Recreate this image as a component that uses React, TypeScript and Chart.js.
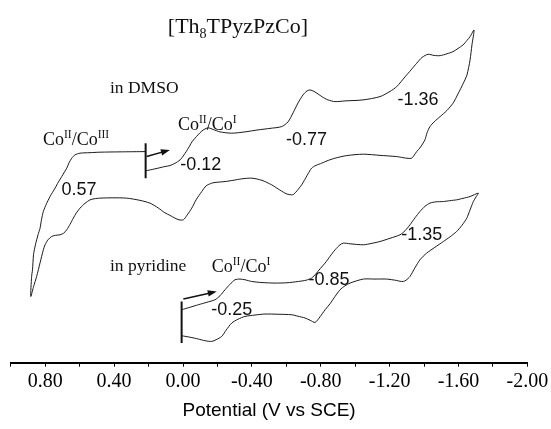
import { useEffect, useRef } from 'react';
import { Chart, registerables } from 'chart.js';

Chart.register(...registerables);

// Potential axis (V vs SCE): a tick every 0.2 V, a label every 0.4 V
const TICK_VALUES = [1.0, 0.8, 0.6, 0.4, 0.2, 0.0, -0.2, -0.4, -0.6, -0.8, -1.0, -1.2, -1.4, -1.6, -1.8, -2.0];

// Cyclic voltammogram in DMSO: start at 0.22 V, sweep to -1.69 V, back to 0.88 V, return to start
const DMSO_POTENTIAL = [
  0.217, 0.163, 0.105, 0.076, 0.047, 0.017, -0.006, -0.031, -0.052, -0.070, -0.087, -0.110, -0.134, -0.151, -0.174,
  -0.215, -0.283, -0.360, -0.436, -0.505, -0.573, -0.610, -0.639, -0.668, -0.697, -0.720, -0.738, -0.761, -0.784,
  -0.806, -0.842, -0.883, -0.941, -1.045, -1.144, -1.202, -1.241, -1.289, -1.324, -1.357, -1.388, -1.423, -1.458,
  -1.493, -1.533, -1.568, -1.597, -1.626, -1.649, -1.667, -1.690,
  -1.678, -1.667, -1.649, -1.628, -1.597, -1.568, -1.533, -1.493, -1.458, -1.434, -1.417, -1.405, -1.376, -1.357,
  -1.342, -1.328, -1.307, -1.278, -1.241, -1.144, -1.047, -0.951, -0.883, -0.836, -0.806, -0.772, -0.747, -0.726,
  -0.703, -0.689, -0.662, -0.642, -0.631, -0.610, -0.592, -0.552, -0.515, -0.459, -0.399, -0.341, -0.290, -0.244,
  -0.192, -0.167, -0.134, -0.109, -0.076, -0.051, -0.023, -0.002, 0.023, 0.047, 0.076, 0.105, 0.145, 0.192, 0.250,
  0.327, 0.407, 0.482, 0.517, 0.540, 0.569, 0.598, 0.619, 0.637, 0.656, 0.675, 0.694, 0.714, 0.740, 0.763, 0.784,
  0.801, 0.811, 0.830, 0.850, 0.868, 0.884,
  0.879, 0.874, 0.868, 0.857, 0.842, 0.830, 0.822, 0.811, 0.793, 0.772, 0.743, 0.723, 0.704, 0.688, 0.675, 0.662,
  0.646, 0.627, 0.598, 0.540, 0.482, 0.366, 0.217,
];
const DMSO_CURRENT = [
  19.20, 19.40, 19.63, 19.73, 19.95, 20.30, 20.80, 21.47, 22.10, 22.47, 22.80, 23.20, 23.45, 23.50, 23.35,
  23.10, 22.97, 23.10, 23.30, 23.45, 23.63, 24.10, 25.00, 26.00, 26.80, 27.20, 27.30, 27.15, 26.90,
  26.63, 26.30, 26.13, 26.20, 26.30, 26.63, 27.15, 27.63, 28.60, 29.30, 29.97, 30.55, 30.87, 30.75,
  30.73, 30.92, 31.13, 31.45, 31.80, 32.25, 32.63, 33.30,
  31.80, 30.30, 28.80, 27.97, 26.90, 25.97, 25.25, 24.63, 24.10, 23.63, 23.00, 22.30, 21.50, 21.13,
  20.75, 20.47, 20.45, 20.52, 20.63, 20.75, 20.87, 20.73, 20.47, 20.20, 19.97, 19.75, 19.47, 18.90,
  18.20, 17.80, 17.20, 16.85, 16.80, 16.85, 16.97, 17.40, 17.80, 18.25, 18.47, 18.40, 18.25, 18.13,
  18.05, 17.97, 17.70, 17.13, 16.30, 15.47, 14.75, 14.30, 14.30, 14.47, 14.75, 15.00, 15.50, 15.97, 16.25,
  16.47, 16.50, 16.47, 16.40, 16.30, 15.95, 15.47, 15.00, 14.47, 13.85, 13.30, 12.95, 12.80, 12.75, 12.63,
  12.30, 11.80, 11.30, 10.00, 8.63, 7.60, 6.63,
  8.63, 9.30, 10.80, 11.80, 12.80, 13.47, 14.30, 15.13, 15.90, 16.63, 17.47, 18.10, 18.63, 19.10, 19.47, 20.00,
  20.47, 20.80, 20.97, 21.02, 21.07, 21.10, 21.13,
];

// Cyclic voltammogram in pyridine: 0.0 V -> -1.72 V -> 0.0 V
const PYRIDINE_POTENTIAL = [
  0.008, -0.041, -0.089, -0.139, -0.186, -0.215, -0.244, -0.273, -0.302, -0.331, -0.360, -0.399, -0.459, -0.534,
  -0.604, -0.670, -0.714, -0.747, -0.772, -0.796, -0.825, -0.854, -0.883, -0.912, -0.931, -0.970, -1.047, -1.098,
  -1.144, -1.202, -1.260, -1.289, -1.318, -1.347, -1.376, -1.405, -1.434, -1.469, -1.512, -1.551, -1.589, -1.626,
  -1.667, -1.715,
  -1.702, -1.686, -1.667, -1.648, -1.620, -1.589, -1.551, -1.512, -1.463, -1.415, -1.376, -1.347, -1.318, -1.295,
  -1.279, -1.260, -1.241, -1.183, -1.115, -1.047, -0.970, -0.941, -0.912, -0.883, -0.854, -0.825, -0.796, -0.767,
  -0.738, -0.709, -0.668, -0.631, -0.552, -0.476, -0.418, -0.360, -0.319, -0.283, -0.250, -0.225, -0.192, -0.167,
  -0.128, -0.089, -0.041, 0.008,
];
const PYRIDINE_CURRENT = [
  5.30, 5.55, 5.80, 6.05, 6.30, 6.70, 7.30, 7.85, 8.30, 8.37, 8.30, 8.13, 8.02, 7.97,
  8.00, 8.13, 8.25, 8.47, 8.90, 9.40, 9.97, 10.65, 11.30, 11.80, 11.97, 11.90, 11.80, 11.95,
  12.13, 12.45, 12.80, 13.20, 13.80, 14.50, 15.13, 15.65, 15.97, 16.10, 16.13, 16.22, 16.30, 16.45,
  16.63, 16.97,
  16.60, 16.13, 15.30, 14.47, 13.75, 13.13, 12.60, 12.13, 11.55, 10.97, 10.30, 9.50, 8.63, 8.25,
  8.13, 8.15, 8.23, 8.37, 8.37, 8.37, 7.97, 7.70, 7.30, 6.63, 5.90, 5.30, 4.60, 4.03,
  4.25, 4.47, 4.65, 4.80, 4.85, 4.87, 4.77, 4.63, 4.35, 3.97, 3.25, 2.63, 2.30, 2.13,
  2.20, 2.37, 2.55, 2.70,
];

// Vertical start markers of the two scans
const START_POTENTIAL = [0.217, 0.008];
const START_LOW = [18.47, 1.97];
const START_HIGH = [21.97, 6.13];

// Scan-direction arrows
const ARROW_FROM_POTENTIAL = [0.211, -0.002];
const ARROW_FROM_CURRENT = [20.63, 6.37];
const ARROW_TO_POTENTIAL = [0.076, -0.196];
const ARROW_TO_CURRENT = [21.3, 7.13];

// Half-wave potentials written next to the waves
const PEAK_LABELS = ['0.57', '-0.12', '-0.77', '-1.36', '-0.25', '-0.85', '-1.35'];
const PEAK_LABEL_POTENTIAL = [0.604, -0.103, -0.717, -1.365, -0.283, -0.848, -1.386];
const PEAK_LABEL_CURRENT = [17.3, 19.8, 22.3, 26.3, 5.3, 8.3, 12.8];

// Solvent names
const SOLVENT_LABELS = ['in DMSO', 'in pyridine'];
const SOLVENT_LABEL_POTENTIAL = [0.424, 0.424];
const SOLVENT_LABEL_CURRENT = [27.5, 9.6];

type Seg = { t: string; k?: 'sup' | 'sub' };

// Redox couple labels (with Roman-numeral superscripts)
const COUPLE_LABELS: Seg[][] = [
  [{ t: 'Co' }, { t: 'II', k: 'sup' }, { t: '/Co' }, { t: 'III', k: 'sup' }],
  [{ t: 'Co' }, { t: 'II', k: 'sup' }, { t: '/Co' }, { t: 'I', k: 'sup' }],
  [{ t: 'Co' }, { t: 'II', k: 'sup' }, { t: '/Co' }, { t: 'I', k: 'sup' }],
];
const COUPLE_LABEL_POTENTIAL = [0.813, 0.029, -0.167];
const COUPLE_LABEL_CURRENT = [22.4, 23.9, 9.7];

const COMPOUND: Seg[] = [{ t: '[Th' }, { t: '8', k: 'sub' }, { t: 'TPyzPzCo]' }];
const COMPOUND_POTENTIAL = -0.319;
const COMPOUND_CURRENT = 33.7;

const SERIF = '"Liberation Serif", "Times New Roman", serif';
const SANS = '"Liberation Sans", Arial, sans-serif';
const INK = '#111';

function toPoints(xs: number[], ys: number[]) {
  return xs.map((x, i) => ({ x, y: ys[i] }));
}

function drawRich(ctx: CanvasRenderingContext2D, segs: Seg[], x: number, yMid: number, size: number, align: 'left' | 'center') {
  const small = size * 0.64;
  const widths = segs.map((s) => {
    ctx.font = `${s.k ? small : size}px ${SERIF}`;
    return ctx.measureText(s.t).width;
  });
  const total = widths.reduce((a, b) => a + b, 0);
  let cx = align === 'center' ? x - total / 2 : x;
  const baseline = yMid + size * 0.33;
  ctx.textAlign = 'left';
  ctx.textBaseline = 'alphabetic';
  segs.forEach((s, i) => {
    ctx.font = `${s.k ? small : size}px ${SERIF}`;
    const dy = s.k === 'sup' ? -size * 0.4 : s.k === 'sub' ? size * 0.2 : 0;
    ctx.fillText(s.t, cx, baseline + dy);
    cx += widths[i];
  });
}

const annotations = {
  id: 'cvAnnotations',
  afterDatasetsDraw(chart: any) {
    const { ctx, scales } = chart;
    const xs = scales.x;
    const ys = scales.y;
    ctx.save();
    ctx.fillStyle = INK;
    ctx.strokeStyle = INK;

    // scan-direction arrows
    ARROW_FROM_POTENTIAL.forEach((_, i) => {
      const x0 = xs.getPixelForValue(ARROW_FROM_POTENTIAL[i]);
      const y0 = ys.getPixelForValue(ARROW_FROM_CURRENT[i]);
      const x1 = xs.getPixelForValue(ARROW_TO_POTENTIAL[i]);
      const y1 = ys.getPixelForValue(ARROW_TO_CURRENT[i]);
      const ang = Math.atan2(y1 - y0, x1 - x0);
      const head = 9;
      ctx.lineWidth = 1.5;
      ctx.beginPath();
      ctx.moveTo(x0, y0);
      ctx.lineTo(x1 - Math.cos(ang) * head * 0.6, y1 - Math.sin(ang) * head * 0.6);
      ctx.stroke();
      ctx.beginPath();
      ctx.moveTo(x1, y1);
      ctx.lineTo(x1 - head * Math.cos(ang) + 3.2 * Math.sin(ang), y1 - head * Math.sin(ang) - 3.2 * Math.cos(ang));
      ctx.lineTo(x1 - head * Math.cos(ang) - 3.2 * Math.sin(ang), y1 - head * Math.sin(ang) + 3.2 * Math.cos(ang));
      ctx.closePath();
      ctx.fill();
    });

    // half-wave potential values
    ctx.font = `18px ${SANS}`;
    ctx.textAlign = 'center';
    ctx.textBaseline = 'middle';
    PEAK_LABELS.forEach((t, i) => {
      ctx.fillText(t, xs.getPixelForValue(PEAK_LABEL_POTENTIAL[i]), ys.getPixelForValue(PEAK_LABEL_CURRENT[i]));
    });

    // solvent names
    ctx.font = `17.5px ${SERIF}`;
    ctx.textAlign = 'left';
    SOLVENT_LABELS.forEach((t, i) => {
      ctx.fillText(t, xs.getPixelForValue(SOLVENT_LABEL_POTENTIAL[i]), ys.getPixelForValue(SOLVENT_LABEL_CURRENT[i]));
    });

    // redox couples
    COUPLE_LABELS.forEach((segs, i) => {
      drawRich(ctx, segs, xs.getPixelForValue(COUPLE_LABEL_POTENTIAL[i]), ys.getPixelForValue(COUPLE_LABEL_CURRENT[i]), 18, 'left');
    });

    // compound name
    drawRich(ctx, COMPOUND, xs.getPixelForValue(COMPOUND_POTENTIAL), ys.getPixelForValue(COMPOUND_CURRENT), 22, 'center');

    ctx.restore();
  },
};

export default function App() {
  const canvasRef = useRef<HTMLCanvasElement | null>(null);

  useEffect(() => {
    document.body.style.margin = '0';
    const canvas = canvasRef.current;
    if (!canvas) return;

    const curveStyle = {
      showLine: true,
      pointRadius: 0,
      borderColor: '#1a1a1a',
      borderWidth: 1,
      tension: 0.25,
      fill: false,
    };
    const startBars = START_POTENTIAL.map((p, i) => ({
      data: [
        { x: p, y: START_LOW[i] },
        { x: p, y: START_HIGH[i] },
      ],
      showLine: true,
      pointRadius: 0,
      borderColor: INK,
      borderWidth: 2,
      tension: 0,
    }));

    const chart = new Chart(canvas, {
      type: 'scatter',
      data: {
        datasets: [
          { ...curveStyle, data: toPoints(DMSO_POTENTIAL, DMSO_CURRENT) },
          { ...curveStyle, data: toPoints(PYRIDINE_POTENTIAL, PYRIDINE_CURRENT) },
          ...startBars,
        ],
      },
      options: {
        responsive: false,
        animation: false,
        devicePixelRatio: 1,
        layout: { padding: { left: 10.8, right: 23.6, top: 0, bottom: 0 } },
        plugins: {
          legend: { display: false },
          tooltip: { enabled: false },
        },
        scales: {
          x: {
            type: 'linear',
            min: -2,
            max: 1,
            reverse: true,
            afterBuildTicks: (scale: any) => {
              scale.ticks = TICK_VALUES.map((value) => ({ value }));
            },
            afterFit: (scale: any) => {
              scale.paddingLeft = 0;
              scale.paddingRight = 0;
              scale.height = 66.3;
            },
            ticks: {
              autoSkip: false,
              maxRotation: 0,
              padding: 3,
              color: '#000',
              font: { family: SERIF, size: 20 },
              callback: (value: any) => {
                const v = Number(value);
                const tenths = Math.round(v * 10);
                if (tenths % 4 !== 0) return '';
                return Math.abs(v) < 1e-9 ? '0.00' : v.toFixed(2);
              },
            },
            grid: {
              drawOnChartArea: false,
              drawTicks: true,
              tickLength: 4,
              color: '#000',
              lineWidth: 1,
            },
            border: { display: true, color: '#000', width: 2 },
            title: {
              display: true,
              text: 'Potential (V vs SCE)',
              color: '#000',
              font: { family: SANS, size: 19 },
              padding: { top: 0, bottom: 7 },
            },
          },
          y: {
            type: 'linear',
            display: false,
            min: 0,
            max: 36.3,
          },
        },
      },
      plugins: [annotations],
    });

    return () => chart.destroy();
  }, []);

  return (
    <div style={{ width: 551, height: 429 }}>
      <canvas ref={canvasRef} width={551} height={429} style={{ display: 'block' }} />
    </div>
  );
}
